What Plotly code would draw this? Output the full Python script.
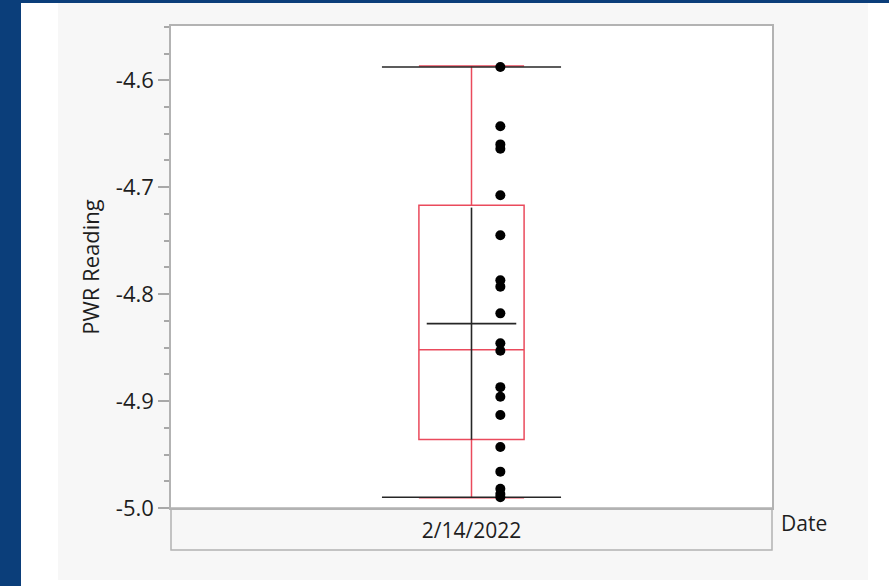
import plotly.graph_objects as go

# ---- data ----
category = ["2/14/2022"]
pwr_readings = [-4.5876, -4.643, -4.660, -4.664, -4.7075, -4.745, -4.787, -4.793,
                -4.818, -4.846, -4.853, -4.887, -4.896, -4.913, -4.943, -4.966,
                -4.982, -4.987, -4.990]
box_q1 = [-4.936]
box_median = [-4.852]
box_q3 = [-4.717]
box_lower = [-4.9905]
box_upper = [-4.5866]
mean_value = [-4.8276]
std_value = [0.1085]
y_ticks = [-5.0, -4.9, -4.8, -4.7, -4.6]
y_tick_labels = ["-5.0", "-4.9", "-4.8", "-4.7", "-4.6"]

W, H = 889, 586
L, R, T, B = 171, 117, 26, 78
pw, ph = W - L - R, H - T - B

def px(x):
    return (x - L) / pw

def py(y):
    return (H - B - y) / ph

RED = "#ea4a5c"
FRAME = "#b3b3b3"
FONT = "Open Sans"
TXT = "#1e1e1e"
BLK = "#262626"

fig = go.Figure()

dmin, dmax = min(pwr_readings), max(pwr_readings)
fig.add_trace(go.Scatter(x=[-0.298, 0.298], y=[dmax, dmax], mode="lines",
                         line=dict(color=BLK, width=1.6), hoverinfo="skip"))
fig.add_trace(go.Scatter(x=[-0.298, 0.298], y=[dmin, dmin], mode="lines",
                         line=dict(color=BLK, width=1.6), hoverinfo="skip"))
m, s = mean_value[0], std_value[0]
fig.add_trace(go.Scatter(x=[-0.149, 0.149], y=[m, m], mode="lines",
                         line=dict(color=BLK, width=1.6), hoverinfo="skip"))
fig.add_trace(go.Scatter(x=[0, 0], y=[m - s, m + s], mode="lines",
                         line=dict(color=BLK, width=1.6), hoverinfo="skip"))

fig.add_trace(go.Box(x=[0], q1=box_q1, median=box_median, q3=box_q3,
                     lowerfence=box_lower, upperfence=box_upper,
                     width=0.35, whiskerwidth=1, boxpoints=False,
                     line=dict(color=RED, width=1.5),
                     fillcolor="rgba(0,0,0,0)", hoverinfo="skip"))

fig.add_trace(go.Scatter(x=[0.096] * len(pwr_readings), y=pwr_readings, mode="markers",
                         marker=dict(color="black", size=10), hoverinfo="y"))

shapes = [
    dict(type="rect", xref="paper", yref="paper", x0=px(21), x1=px(W + 5),
         y0=py(H + 5), y1=py(3), fillcolor="white", line=dict(width=0), layer="below"),
    dict(type="rect", xref="paper", yref="paper", x0=px(58), x1=px(868),
         y0=py(580), y1=py(3), fillcolor="#f7f7f7", line=dict(width=0), layer="below"),
    dict(type="rect", xref="paper", yref="paper", x0=0, x1=1, y0=0, y1=1,
         fillcolor="white", line=dict(width=0), layer="below"),
    dict(type="rect", xref="paper", yref="paper", x0=0, x1=1,
         y0=py(550), y1=0, fillcolor="rgba(0,0,0,0)",
         line=dict(color=FRAME, width=1.5), layer="above"),
]

fig.update_layout(
    width=W, height=H,
    margin=dict(l=L, r=R, t=T, b=B, pad=0),
    paper_bgcolor="#0b3e7a",
    plot_bgcolor="white",
    showlegend=False,
    shapes=shapes,
    font=dict(family=FONT, color=TXT),
    xaxis=dict(range=[-1, 1], tickmode="array", tickvals=[0], ticktext=category,
               ticks="outside", ticklen=3, tickcolor="rgba(0,0,0,0)",
               tickfont=dict(size=21, family=FONT, color=TXT),
               showgrid=False, zeroline=False, showline=True, linecolor=FRAME,
               linewidth=1.5, mirror=True, fixedrange=True),
    yaxis=dict(range=[-5.0, -5.0 + ph / 1069.4], tickmode="array", tickvals=y_ticks,
               ticktext=y_tick_labels, ticks="outside", ticklen=11, tickcolor="#a8a8a8",
               tickwidth=1.5,
               minor=dict(dtick=0.025, tick0=-5.0, ticks="outside", ticklen=5,
                          tickcolor="#a8a8a8", tickwidth=1.5, showgrid=False),
               tickfont=dict(size=22, family=FONT, color=TXT),
               title=dict(text="PWR Reading", font=dict(size=22, family=FONT, color=TXT),
                          standoff=10),
               showgrid=False, zeroline=False, showline=True, linecolor=FRAME,
               linewidth=1.5, mirror=True, fixedrange=True),
    annotations=[dict(text="Date", xref="paper", yref="paper", x=px(779), y=py(523),
                      xanchor="left", yanchor="middle", showarrow=False,
                      font=dict(size=21, family=FONT, color=TXT))],
)

fig.write_html("out.html", config={"displayModeBar": False},
               post_script="document.body.style.margin='0';")
